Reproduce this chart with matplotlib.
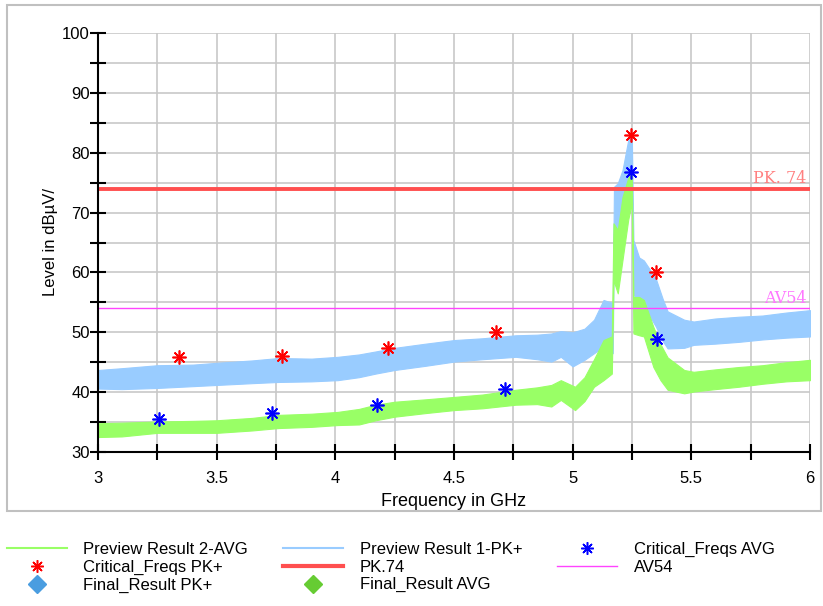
import numpy as np
import matplotlib
matplotlib.use("Agg")
import matplotlib.pyplot as plt
from matplotlib.lines import Line2D
from matplotlib.patches import Rectangle

plt.rcParams['font.family'] = ['Liberation Sans', 'DejaVu Sans']

# Preview Result 1-PK+ (band: lower / upper edge of the noisy trace), GHz / dBuV
freq_pk = [3.00, 3.10, 3.25, 3.40, 3.50, 3.65, 3.76, 3.90, 4.01, 4.10,
           4.17, 4.25, 4.38, 4.50, 4.62, 4.76, 4.85, 4.91, 4.95, 5.00,
           5.05, 5.09, 5.13, 5.169, 5.174, 5.19, 5.21, 5.234, 5.249, 5.256,
           5.28, 5.30, 5.35, 5.38, 5.40, 5.47, 5.51, 5.60, 5.70, 5.80,
           5.90, 6.00]
pk_hi = [43.7, 44.0, 44.5, 44.6, 44.9, 45.3, 45.7, 45.6, 45.9, 46.3,
         46.8, 47.4, 48.1, 48.7, 49.0, 49.5, 49.6, 49.8, 50.2, 50.0,
         50.6, 52.1, 55.4, 54.9, 74.3, 74.9, 77.1, 82.1, 83.3, 65.4,
         62.5, 62.0, 59.0, 55.5, 53.5, 52.1, 51.8, 52.3, 52.6, 52.8,
         53.3, 53.7]
pk_lo = [40.6, 40.5, 40.7, 41.0, 41.2, 41.5, 41.7, 41.8, 42.0, 42.5,
         43.1, 43.7, 44.4, 45.1, 45.5, 45.9, 45.5, 45.1, 45.9, 44.3,
         45.4, 46.5, 47.6, 46.5, 66.5, 63.2, 66.5, 72.6, 74.3, 56.5,
         54.0, 54.3, 51.0, 48.5, 47.3, 47.4, 47.9, 48.1, 48.4, 48.8,
         49.1, 49.3]

# Preview Result 2-AVG
freq_av = [3.00, 3.10, 3.25, 3.40, 3.50, 3.65, 3.76, 3.90, 4.01, 4.10,
           4.17, 4.25, 4.38, 4.50, 4.62, 4.76, 4.85, 4.91, 4.95, 5.01,
           5.05, 5.09, 5.13, 5.165, 5.172, 5.19, 5.21, 5.234, 5.249, 5.256,
           5.28, 5.30, 5.34, 5.37, 5.40, 5.47, 5.51, 5.60, 5.70, 5.80,
           5.90, 6.00]
av_hi = [34.8, 34.9, 35.1, 35.2, 35.3, 35.7, 36.2, 36.4, 36.7, 37.2,
         37.9, 38.4, 38.8, 39.2, 39.6, 40.4, 40.8, 41.2, 42.0, 40.9,
         42.5, 45.5, 48.7, 49.3, 68.2, 67.1, 72.6, 75.8, 76.6, 55.9,
         55.9, 55.4, 50.9, 48.0, 45.8, 43.7, 43.4, 43.8, 44.2, 44.5,
         45.0, 45.4]
av_lo = [32.5, 32.6, 33.2, 33.2, 33.2, 33.6, 34.0, 34.2, 34.5, 34.6,
         35.3, 35.9, 36.5, 37.0, 37.3, 37.9, 38.0, 37.6, 38.7, 37.0,
         38.5, 40.9, 42.0, 43.1, 58.7, 56.5, 62.1, 68.8, 71.6, 49.8,
         49.5, 49.3, 44.2, 42.0, 40.4, 39.8, 40.1, 40.5, 40.9, 41.4,
         41.8, 42.0]

# critical frequencies
crit_pk_f = [3.341, 3.776, 4.220, 4.677, 5.246, 5.350]
crit_pk_v = [45.8, 46.1, 47.4, 50.1, 83.0, 60.0]
crit_av_f = [3.257, 3.732, 4.177, 4.715, 5.246, 5.355]
crit_av_v = [35.5, 36.5, 37.8, 40.5, 76.8, 48.9]

limit_pk = 74
limit_av = 54

fig = plt.figure(figsize=(8.23, 6.06), dpi=100)
ax = fig.add_axes([98/823, 154/606, 712/823, 419/606])

c_pk = '#99ccff'
c_av = '#99ff66'

ax.fill_between(freq_pk, pk_lo, pk_hi, color=c_pk, lw=0.8, zorder=3)
ax.fill_between(freq_av, av_lo, av_hi, color=c_av, lw=0.8, zorder=4)

ax.axhline(limit_pk, color='#ff4f4f', lw=2.8, zorder=5)
ax.axhline(limit_av, color='#ff44ff', lw=1.0, zorder=5)
ax.text(5.985, limit_pk + 0.3, 'PK. 74', color='#ff8080', fontsize=11.5,
        family='DejaVu Serif', ha='right', va='bottom', zorder=6)
ax.text(5.985, limit_av + 0.3, 'AV54', color='#ff77ff', fontsize=11.5,
        family='DejaVu Serif', ha='right', va='bottom', zorder=6)

star = (8, 2, 0)
ax.plot(crit_pk_f, crit_pk_v, ls='none', marker=star, ms=10, mew=1.2,
        color='#ff0000', zorder=7)
ax.plot(crit_av_f, crit_av_v, ls='none', marker=star, ms=10, mew=1.2,
        color='#0000ff', zorder=7)

ax.set_xlim(3, 6)
ax.set_ylim(30, 100)
ax.set_xticks([3, 3.5, 4, 4.5, 5, 5.5, 6])
ax.set_xticklabels(['3', '3.5', '4', '4.5', '5', '5.5', '6'])
ax.set_xticks(np.arange(3.25, 6, 0.5), minor=True)
ax.set_yticks(np.arange(30, 101, 10))
ax.set_yticks(np.arange(35, 100, 10), minor=True)
ax.grid(True, which='both', color='#c8c8c8', lw=1.2, zorder=0)
ax.set_axisbelow(True)

ax.tick_params(which='both', direction='inout', length=11, width=1.5,
               labelsize=12, color='black')
ax.tick_params(axis='x', pad=8)
ax.tick_params(axis='y', pad=0.5)
for s in ['top', 'right']:
    ax.spines[s].set_visible(False)
for s in ['left', 'bottom']:
    ax.spines[s].set_linewidth(1.5)
    ax.spines[s].set_zorder(8)

ax.set_xlabel('Frequency in GHz', fontsize=13, labelpad=5)
ax.set_ylabel('Level in dBµV/', fontsize=12, labelpad=3)

# outer frame
fig.patches.append(Rectangle((7.5/823, 95/606), 813/823, 506/606,
                             transform=fig.transFigure, fill=False,
                             ec='#c0c0c0', lw=1.5))

# legend (column-wise order for ncol=3)
handles = [
    Line2D([], [], color=c_av, lw=1.5),
    Line2D([], [], ls='none', marker=star, ms=9, mew=1.1, color='#ff0000'),
    Line2D([], [], ls='none', marker='D', ms=9, color='#4a9de0'),
    Line2D([], [], color=c_pk, lw=1.5),
    Line2D([], [], color='#ff4f4f', lw=3),
    Line2D([], [], ls='none', marker='D', ms=9, color='#66cc33'),
    Line2D([], [], ls='none', marker=star, ms=9, mew=1.1, color='#0000ff'),
    Line2D([], [], color='#ff44ff', lw=1.0),
]
labels = ['Preview Result 2-AVG', 'Critical_Freqs PK+', 'Final_Result PK+',
          'Preview Result 1-PK+', 'PK.74', 'Final_Result AVG',
          'Critical_Freqs AVG', 'AV54']
fig.legend(handles, labels, ncol=3, loc='upper left',
           bbox_to_anchor=(0.0, 1 - 535/606), frameon=False, fontsize=12,
           handlelength=3.6, handletextpad=1.0, columnspacing=2.1,
           labelspacing=0.17, borderaxespad=0)

fig.savefig('out.png', dpi=100)
